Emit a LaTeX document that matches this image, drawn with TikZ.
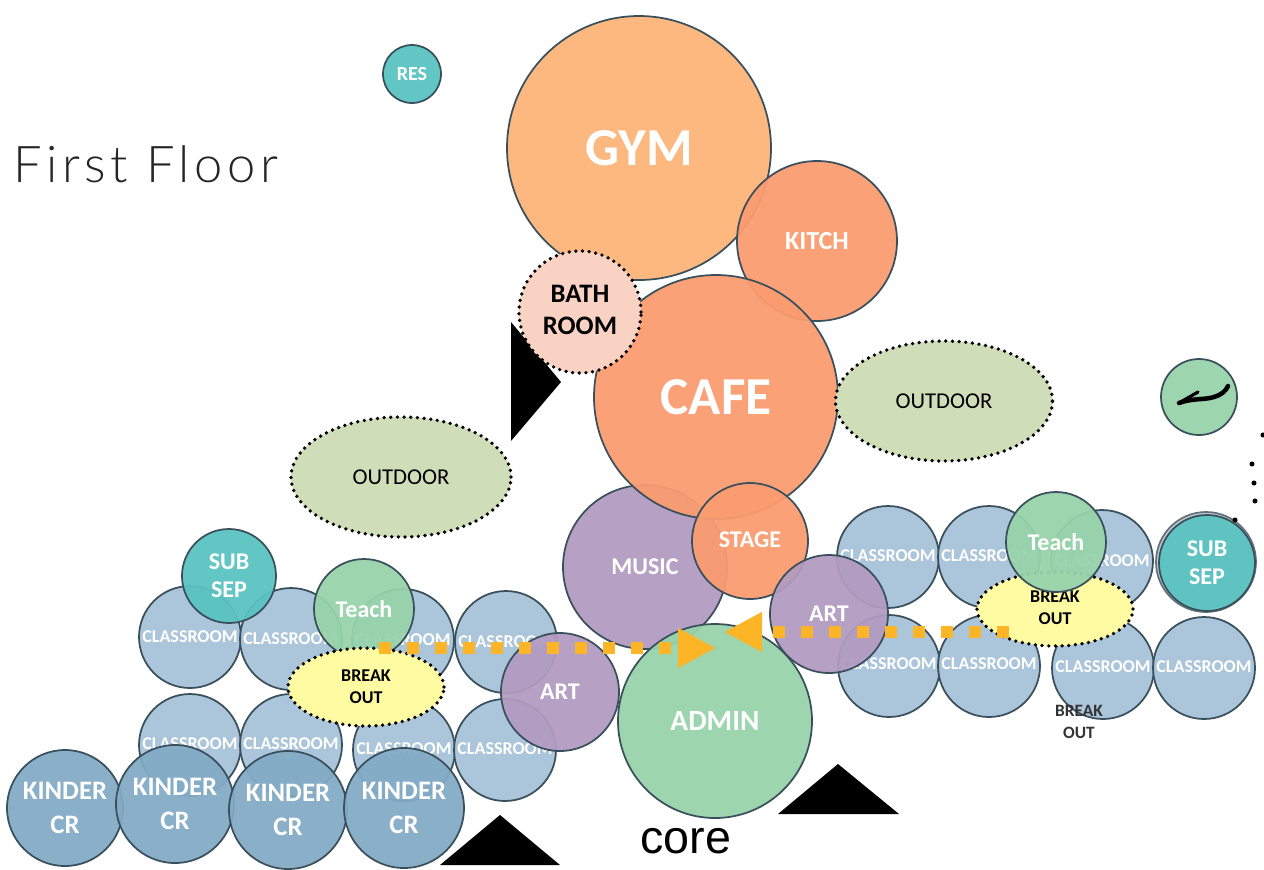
\documentclass[tikz,border=0pt]{standalone}
\usepackage{fontspec}
\usetikzlibrary{shapes.geometric,arrows.meta}
\setmainfont{Carlito}
\newfontfamily\corefont{Liberation Sans}
\newfontfamily\titlefont[LetterSpace=9]{Lato Light}
\definecolor{edgeC}{HTML}{3A4F5C}
\definecolor{classC}{HTML}{A6C2D9}
\definecolor{kinderC}{HTML}{83ABC5}
\definecolor{tealC}{HTML}{59C3C1}
\definecolor{greenC}{HTML}{97D3AB}
\definecolor{purpleC}{HTML}{B29BC0}
\definecolor{orangeC}{HTML}{FB9C70}
\definecolor{gymC}{HTML}{FCB478}
\definecolor{bathC}{HTML}{F9D2C4}
\definecolor{outdoorC}{HTML}{CFDDB8}
\definecolor{yellowC}{HTML}{FFFBA3}
\definecolor{arrowC}{HTML}{FDB528}
\newcommand{\bub}[6]{\node[bubble,#5,minimum size=#4*1.5pt] (#1) at (#2,#3) {#6};}
\newcommand{\ovl}[7]{\node[oval,#6,minimum width=#4*.75pt,minimum height=#5*.75pt] (#1) at (#2,#3) {#7};}
\newcommand{\up}[2]{\raisebox{#1pt}{#2}}
\tikzset{
  bubble/.style={circle,draw=edgeC,line width=1.3pt,inner sep=0pt,fill opacity=.94,text opacity=1,text=white,align=center,font=\bfseries\fontsize{18}{21}\selectfont},
  oval/.style={ellipse,draw=black,line width=2.8pt,dash pattern=on 0pt off 5pt,line cap=round,inner sep=0pt,align=center,text=black},
  classroom/.style={fill=classC,font=\bfseries\fontsize{13.5}{16}\selectfont},
  kinder/.style={fill=kinderC,font=\bfseries\fontsize{20}{25}\selectfont},
  teal/.style={fill=tealC},
  green/.style={fill=greenC},
  purple/.style={fill=purpleC},
  orange/.style={fill=orangeC},
  brk/.style={fill=yellowC,font=\bfseries\fontsize{13.5}{16.5}\selectfont},
  outd/.style={fill=outdoorC,font=\fontsize{17}{20}\selectfont},
  flow/.style={draw=arrowC,line width=9pt,dash pattern=on 9pt off 12pt,-{Triangle[length=28.5pt,width=28pt,fill=arrowC]}},
  wedge/.style={fill=black,draw=none},
  dotmark/.style={circle,fill=black,inner sep=0pt,minimum size=3.8pt}
}
\begin{document}
\begin{tikzpicture}[x=.75pt,y=-.75pt]
\useasboundingbox (0,0) rectangle (1264,869);
\fill[white] (0,0) rectangle (1264,869);
\node[anchor=west,inner sep=0pt,font=\titlefont\fontsize{38}{40}\selectfont,text=black!85] (title) at (13,164) {First Floor};

\bub{res}{412}{74}{29}{teal,font=\bfseries\fontsize{15}{18}\selectfont}{\up{-2}{RES}}
\bub{gym}{639}{148}{132}{fill=gymC,font=\bfseries\fontsize{40}{44}\selectfont}{GYM}
\bub{kitch}{817}{241}{80}{orange,font=\bfseries\fontsize{19.5}{23}\selectfont}{KITCH}
\bub{music}{645}{567}{82}{purple}{MUSIC}
\bub{cafe}{716}{397}{122}{orange,font=\bfseries\fontsize{40}{44}\selectfont}{CAFE}
\fill[wedge] (511,322) -- (561,382) -- (511,441) -- cycle;
\ovl{bath}{580}{312}{122}{122}{fill=bathC,font=\bfseries\fontsize{20}{24}\selectfont}{\up{-1.5}{\begin{tabular}{@{}c@{}}BATH\\ROOM\end{tabular}}}
\ovl{outr}{944}{401}{217}{120}{outd}{\up{-1.5}{OUTDOOR}}
\ovl{outl}{401}{477}{220}{120}{outd}{OUTDOOR}
\bub{stage}{750}{541}{58}{orange}{\up{1.5}{STAGE}}

% right classrooms
\bub{cr1}{888}{557}{51}{classroom}{\up{1.5}{CLASSROOM}}
\bub{cr2}{989}{557}{51}{classroom}{\up{1.5}{CLASSROOM}}
\bub{cr3}{1102}{561}{51}{classroom}{CLASSROOM}
\bub{cr4}{889}{666}{51}{classroom}{\up{3}{CLASSROOM}}
\bub{cr5}{989}{666}{51}{classroom}{\up{3}{CLASSROOM}}
\bub{cr6}{1103}{668}{51}{classroom}{\up{1.5}{CLASSROOM}}
\bub{cr7}{1204}{668}{51}{classroom}{\up{1.5}{CLASSROOM}}
\node[inner sep=0pt,align=center,font=\bfseries\fontsize{13}{16}\selectfont,text=black!80] (brkfree) at (1079,722) {BREAK\\OUT};
\ovl{brkr}{1055}{609}{156}{74}{brk}{\up{6}{\begin{tabular}{@{}c@{}}BREAK\\OUT\end{tabular}}}
\bub{teachr}{1056}{542}{50}{green}{Teach}
\draw[edgeC!80,line width=1.3pt,fill=edgeC!30] (1206,562) circle[radius=37.5pt];
\bub{subr}{1207}{563}{48}{teal}{SUB\\SEP}

% left classrooms
\bub{cl1}{190}{637}{51}{classroom}{CLASSROOM}
\bub{cl2}{291}{639}{51}{classroom}{\up{1}{CLASSROOM}}
\bub{cl3}{403}{640}{51}{classroom}{CLASSROOM}
\bub{cl4}{506}{642}{51}{classroom}{CLASSROOM}
\bub{cl5}{190}{745}{51}{classroom}{\up{1.5}{CLASSROOM}}
\bub{cl6}{291}{745}{51}{classroom}{\up{1.5}{CLASSROOM}}
\bub{cl7}{404}{750}{51}{classroom}{\up{1.5}{CLASSROOM}}
\bub{cl8}{505}{750}{51}{classroom}{\up{1.5}{CLASSROOM}}
\bub{subl}{229}{576}{47}{teal}{SUB\\SEP}
\bub{teachl}{364}{609}{50}{green}{Teach}
\ovl{brkl}{366}{687}{156}{78}{brk}{BREAK\\OUT}
\bub{artl}{560}{692}{59}{purple}{ART}
\bub{k1}{65}{808}{58}{kinder}{KINDER\\CR}
\bub{k2}{175}{804}{59}{kinder}{KINDER\\CR}
\bub{k3}{288}{810}{59}{kinder}{KINDER\\CR}
\bub{k4}{404}{808}{60}{kinder}{KINDER\\CR}

\bub{admin}{715}{721}{97}{green,font=\bfseries\fontsize{22}{26}\selectfont}{ADMIN}
\bub{artr}{829}{614}{59}{purple}{ART}

% orange flow arrows
\coordinate (fl1) at (379,648);
\coordinate (fl2) at (716,648);
\coordinate (fr1) at (1009,632);
\coordinate (fr2) at (724,632);
\draw[flow] (fl1) -- (fl2);
\draw[flow] (fr1) -- (fr2);

% site wedges
\fill[wedge] (778,814) -- (838,764) -- (899,814) -- cycle;
\fill[wedge] (440,865) -- (500,815) -- (560,865) -- cycle;
\node[inner sep=0pt,font=\corefont\fontsize{35}{38}\selectfont] (core) at (686,841) {core};

% green badge
\bub{badge}{1199}{397}{38}{green}{}
\draw[black,line width=3.4pt,line cap=round] (1179,403) .. controls (1192,398) and (1205,400) .. (1214,397) .. controls (1221,395) and (1226,391) .. (1228,386);
\draw[black,line width=2.4pt,line cap=round] (1179,403) -- (1198,392);

% stray dots
\node[dotmark] (d1) at (1263,435) {};
\node[dotmark] (d2) at (1252,464) {};
\node[dotmark] (d3) at (1254,483) {};
\node[dotmark] (d4) at (1255,501) {};
\node[dotmark] (d5) at (1235,520) {};
\end{tikzpicture}
\end{document}
